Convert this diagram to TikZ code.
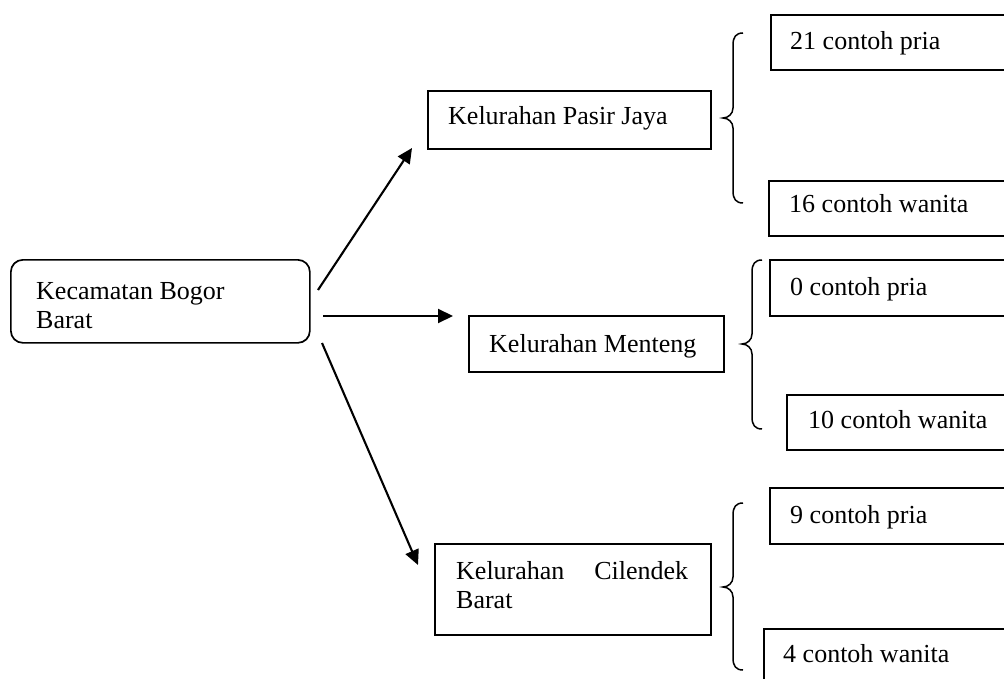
\documentclass[tikz,border=0pt]{standalone}
\usepackage{fontspec}
\setmainfont{Liberation Serif}
\usetikzlibrary{arrows.meta}
\newcommand\wordbrace[6]{%
  \draw[brc] (#3,#4) .. controls (#2+3,#4) and (#2,#4+4) .. (#2,#4+12)
    -- (#2,#5-10) .. controls (#2,#5-4) and (#1+5,#5) .. (#1,#5)
    .. controls (#1+5,#5) and (#2,#5+4) .. (#2,#5+10)
    -- (#2,#6-12) .. controls (#2,#6-4) and (#2+3,#6) .. (#3,#6);}
\begin{document}
\begin{tikzpicture}[x=1pt,y=-1pt,
  box/.style={draw, line width=1.7pt, rectangle, inner sep=0pt, anchor=north west},
  txt/.style={anchor=base west, inner sep=0pt, font=\fontsize{26}{29}\selectfont},
  arr/.style={line width=2.1pt, -{Triangle[length=15pt,width=14pt]}},
  brc/.style={line width=1.5pt}]
\clip (0,0) rectangle (1004,679);
\fill[white] (0,0) rectangle (1004,679);

% main boxes
\node[box, rounded corners=12pt, minimum width=299pt, minimum height=83pt] (kec) at (10,259) {};
\node[box, minimum width=283pt, minimum height=58pt] (pj) at (427,90) {};
\node[box, minimum width=255pt, minimum height=56pt] (mt) at (468,315) {};
\node[box, minimum width=276pt, minimum height=91pt] (cb) at (434,543) {};

% right boxes (cut by the right edge)
\node[box, minimum width=260pt, minimum height=55pt] (b1) at (770,14) {};
\node[box, minimum width=260pt, minimum height=55pt] (b2) at (768,180) {};
\node[box, minimum width=260pt, minimum height=56pt] (b3) at (769,259) {};
\node[box, minimum width=260pt, minimum height=55pt] (b4) at (786,394) {};
\node[box, minimum width=260pt, minimum height=56pt] (b5) at (769,487) {};
\node[box, minimum width=260pt, minimum height=70pt] (b6) at (763,628) {};

% texts
\node[txt] (tk1) at (36,299) {Kecamatan Bogor};
\node[txt] (tk2) at (36,328) {Barat};
\node[txt] (tpj) at (448,125) {Kelurahan Pasir Jaya};
\node[txt] (tmt) at (489,352) {Kelurahan Menteng};
\node[txt] (tc1) at (456,579) {\makebox[232pt][s]{Kelurahan Cilendek}};
\node[txt] (tc2) at (456,608) {Barat};
\node[txt] (t1) at (790,50) {21 contoh pria};
\node[txt] (t2) at (789,213) {16 contoh wanita};
\node[txt] (t3) at (790,295) {0 contoh pria};
\node[txt] (t4) at (808,428) {10 contoh wanita};
\node[txt] (t5) at (790,523) {9 contoh pria};
\node[txt] (t6) at (783,662) {4 contoh wanita};

% arrows
\coordinate (s1) at (318,290); \coordinate (e1) at (412,148);
\coordinate (s2) at (323,316); \coordinate (e2) at (453,316);
\coordinate (s3) at (322,343); \coordinate (e3) at (418,565);
\draw[arr] (s1) -- (e1);
\draw[arr] (s2) -- (e2);
\draw[arr] (s3) -- (e3);

% braces
\wordbrace{723}{733}{743}{33}{118}{203}
\wordbrace{742}{752}{762}{260}{344}{429}
\wordbrace{723}{733}{743}{503}{587}{670}
\end{tikzpicture}
\end{document}
